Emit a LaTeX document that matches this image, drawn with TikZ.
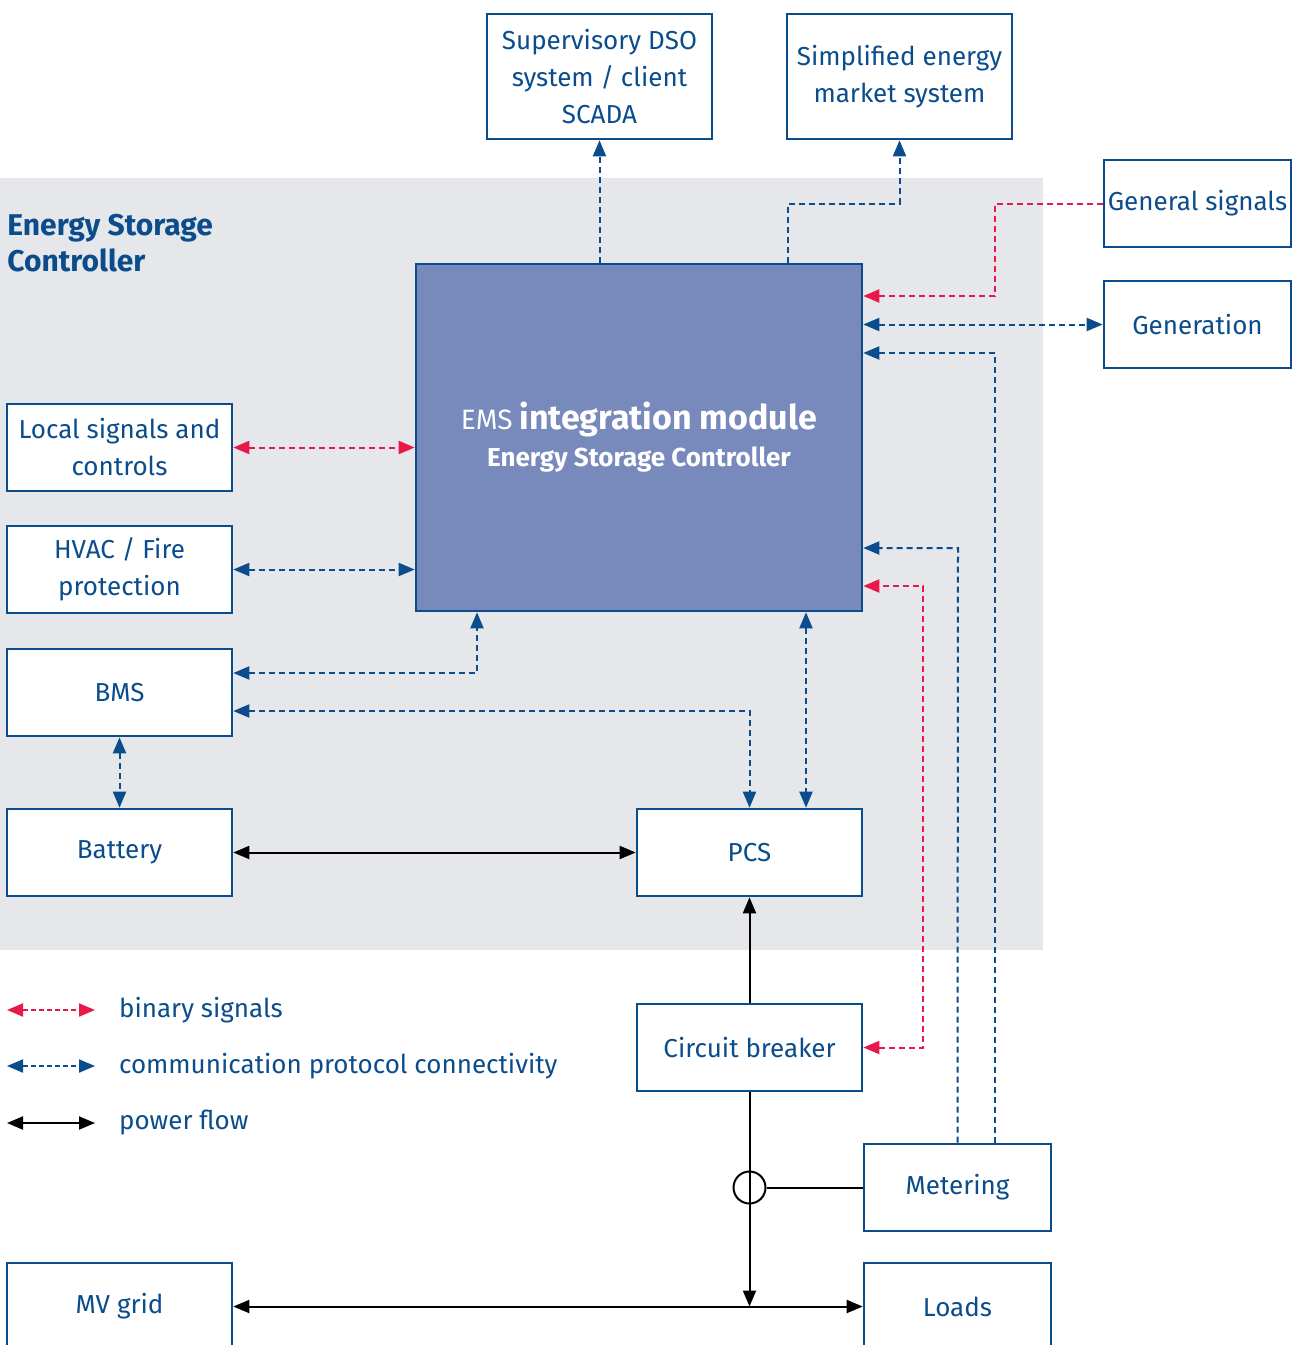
\documentclass[tikz,border=0pt]{standalone}
\usepackage{fontspec}
\setmainfont{Fira Sans}
\usetikzlibrary{arrows.meta,positioning,calc}
\definecolor{escblue}{HTML}{0B4C8C}
\definecolor{escred}{HTML}{E8194A}
\definecolor{escgray}{HTML}{E5E7EA}
\definecolor{emsfill}{HTML}{788ABC}
\tikzset{
  tip/.tip={Triangle[length=8pt,width=6.5pt]},
  box/.style={draw=escblue, line width=1.3pt, fill=white, text=escblue,
    minimum width=112.5pt, minimum height=43.5pt, inner sep=0pt,
    align=center, font=\fontsize{13}{18.5}\selectfont},
  narrowbox/.style={box, minimum width=93.5pt},
  comline/.style={draw=escblue, line width=1pt, dash pattern=on 3pt off 2pt, -tip},
  sigline/.style={comline, draw=escred},
  powline/.style={draw=black, line width=1pt, -tip},
  both/.style={tip-tip},
  legtext/.style={anchor=west, text=escblue, font=\fontsize{13}{16}\selectfont},
}

\begin{document}
\begin{tikzpicture}[x=0.5pt,y=-0.5pt]
\useasboundingbox (0,0) rectangle (1295,1345);
\fill[escgray] (0,178) rectangle (1043,950);
\node[anchor=west, align=left, inner sep=0pt, text=escblue, font=\bfseries\fontsize{15}{18}\selectfont]
  (title) at (7,243) {Energy Storage\\Controller};
% boxes
\node[box, minimum height=62.5pt] (dso) at (599.5,76.5) {Supervisory DSO\\system / client\\SCADA};
\node[box, minimum height=62.5pt] (mkt) at (899.5,76.5) {Simplified energy\\market system};
\node[narrowbox] (gsig) at (1197.5,203.5) {General signals};
\node[narrowbox] (gen) at (1197.5,324.5) {Generation};
\node[box, fill=emsfill, text=white, minimum width=223pt, minimum height=173.5pt]
  (ems) at (639,437.5)
  {{\fontsize{14}{18.5}\selectfont EMS} {\bfseries\fontsize{17}{18.5}\selectfont integration module}\\
   {\bfseries Energy Storage Controller}};
\node[box] (loc) at (119.5,447.5) {Local signals and\\controls};
\node[box] (hvac) at (119.5,569.5) {HVAC / Fire\\protection};
\node[box] (bms) at (119.5,692.5) {BMS};
\node[box] (bat) at (119.5,852.5) {Battery};
\node[box] (pcs) at (749.5,852.5) {PCS};
\node[box] (cb) at (749.5,1047.5) {Circuit breaker};
\node[narrowbox] (met) at (957.5,1187.5) {Metering};
\node[box] (mv) at (119.5,1306.5) {MV grid};
\node[narrowbox] (loads) at (957.5,1306.5) {Loads};
% communication links
\draw[comline] (ems.north -| dso.south) -- (dso.south);
\draw[comline] (ems.north -| 788,0) -- (788,204) -| (mkt.south);
\draw[sigline] (gsig.west) -| (995,296) -- (ems.east |- 0,296);
\draw[comline, both] (ems.east |- gen.west) -- (gen.west);
\draw[comline] (met.north -| 995,0) -- (995,353) -- (ems.east |- 0,353);
\draw[comline] (met.north) -- (958,548) -- (ems.east |- 0,548);
\draw[sigline, both] (cb.east) -| (923,586) -- (ems.east |- 0,586);
\draw[sigline, both] (loc.east) -- (ems.west |- loc.east);
\draw[comline, both] (hvac.east) -- (ems.west |- hvac.east);
\draw[comline, both] (bms.east |- 0,673) -| (ems.south -| 477,0);
\draw[comline, both] (bms.east |- 0,711) -| (pcs.north);
\draw[comline, both] (bms.south) -- (bat.north);
\draw[comline, both] (ems.south -| 806,0) -- (pcs.north -| 806,0);
% power flow
\draw[powline, both] (bat.east) -- (pcs.west);
\draw[powline] (cb.north) -- (pcs.south);
\coordinate (jn) at (cb.south |- mv.east);
\draw[powline] (cb.south) -- (jn);
\node[draw=black, line width=1pt, circle, minimum size=16pt, inner sep=0pt] (ct) at (749.5,1187.5) {};
\draw[line width=1pt] (ct.east) -- (met.west);
\draw[powline, both] (mv.east) -- (loads.west);
% legend
\coordinate (lga) at (7,1010);  \coordinate (lgb) at (95,1010);
\coordinate (lgc) at (7,1066);  \coordinate (lgd) at (95,1066);
\coordinate (lge) at (7,1123);  \coordinate (lgf) at (95,1123);
\draw[sigline, both, dash pattern=on 2.5pt off 1.5pt] (lga) -- (lgb);
\draw[comline, both, dash pattern=on 2.5pt off 1.5pt] (lgc) -- (lgd);
\draw[powline, both] (lge) -- (lgf);
\node[legtext] (lgt1) at (112,1010) {binary signals};
\node[legtext] (lgt2) at (112,1066) {communication protocol connectivity};
\node[legtext] (lgt3) at (112,1123) {power flow};
\end{tikzpicture}
\end{document}
